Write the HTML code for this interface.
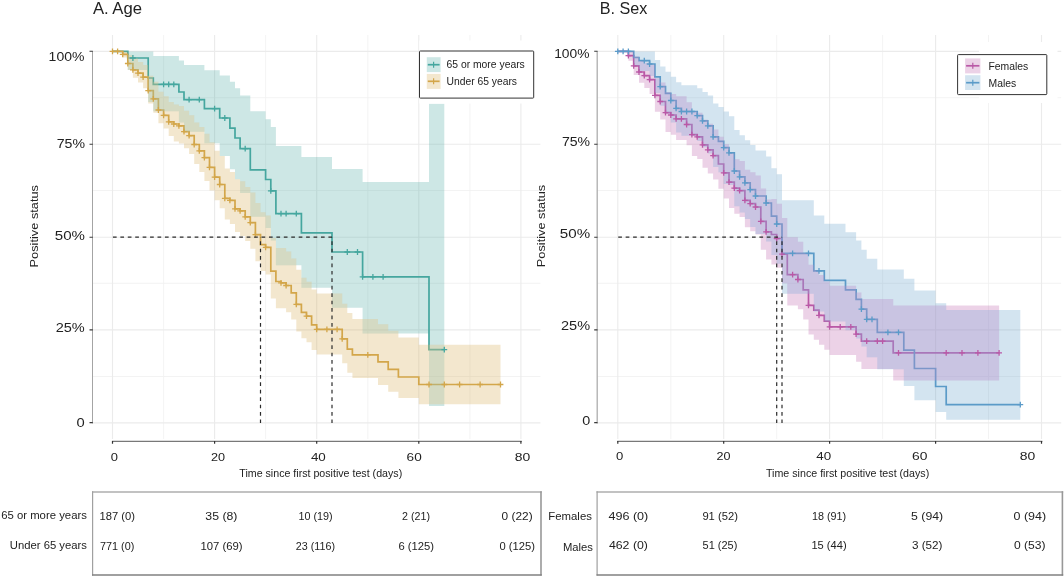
<!DOCTYPE html>
<html lang="en"><head><meta charset="utf-8"><title>Kaplan-Meier: time to negative test by age and sex</title>
<style>html,body{margin:0;padding:0;background:#fff}body{width:1064px;height:577px;overflow:hidden}svg{display:block}</style>
</head><body>
<svg width="1064" height="577" viewBox="0 0 1064 577" font-family="'Liberation Sans', sans-serif">
<defs><filter id="ga" x="0" y="0" width="1064" height="577" filterUnits="userSpaceOnUse" color-interpolation-filters="sRGB"><feOffset dx="0" dy="0"/></filter></defs>
<rect width="1064" height="577" fill="#fff"/>
<path d="M92.6,97.7H540.4M92.6,190.5H540.4M92.6,283.3H540.4M92.6,376.5H540.4M163.6,35.0V439.0M265.6,35.0V439.0M367.8,35.0V439.0M469.9,35.0V439.0" stroke="#f0f0f0" stroke-width="0.8" fill="none"/>
<path d="M92.6,51.4H540.4M92.6,144.2H540.4M92.6,237.2H540.4M92.6,329.9H540.4M92.6,422.9H540.4M112.5,35.0V439.0M214.6,35.0V439.0M316.7,35.0V439.0M418.8,35.0V439.0M520.9,35.0V439.0" stroke="#ebebeb" stroke-width="1.1" fill="none"/>
<path d="M112.5,51.4L127.8,51.4L127.8,58.0L148.2,58.0L148.2,78.0L153.3,78.0L153.3,84.4L178.9,84.4L178.9,92.0L184.0,92.0L184.0,99.6L204.4,99.6L204.4,108.7L219.7,108.7L219.7,118.0L229.9,118.0L229.9,128.2L235.0,128.2L235.0,138.0L240.1,138.0L240.1,148.6L250.3,148.6L250.3,169.8L265.6,169.8L265.6,179.5L270.8,179.5L270.8,190.8L275.9,190.8L275.9,213.7L301.4,213.7L301.4,232.8L332.0,232.8L332.0,252.0L362.6,252.0L362.6,276.8L429.0,276.8L429.0,349.7L444.3,349.7" stroke="#45a79f" stroke-width="1.7" fill="none"/>
<path d="M112.5,51.4L122.7,51.4L122.7,54.3L127.8,54.3L127.8,63.5L132.9,63.5L132.9,69.8L138.0,69.8L138.0,73.1L143.1,73.1L143.1,77.1L148.2,77.1L148.2,90.7L153.3,90.7L153.3,98.8L158.4,98.8L158.4,110.0L163.6,110.0L163.6,115.3L168.7,115.3L168.7,121.9L173.8,121.9L173.8,124.0L178.9,124.0L178.9,125.8L184.0,125.8L184.0,131.7L189.1,131.7L189.1,135.7L194.2,135.7L194.2,144.5L199.3,144.5L199.3,150.8L204.4,150.8L204.4,157.7L209.5,157.7L209.5,167.3L214.6,167.3L214.6,177.2L219.7,177.2L219.7,184.5L224.8,184.5L224.8,198.3L229.9,198.3L229.9,200.3L235.0,200.3L235.0,208.9L240.1,208.9L240.1,210.8L245.2,210.8L245.2,216.8L250.3,216.8L250.3,222.7L255.4,222.7L255.4,234.7L260.5,234.7L260.5,244.6L265.6,244.6L265.6,247.4L270.8,247.4L270.8,271.1L275.9,271.1L275.9,281.5L281.0,281.5L281.0,282.8L286.1,282.8L286.1,285.5L291.2,285.5L291.2,292.9L296.3,292.9L296.3,304.4L301.4,304.4L301.4,312.3L306.5,312.3L306.5,316.2L311.6,316.2L311.6,324.8L316.7,324.8L316.7,329.4L342.2,329.4L342.2,338.9L347.3,338.9L347.3,349.2L352.4,349.2L352.4,354.8L378.0,354.8L378.0,361.9L388.2,361.9L388.2,369.4L398.4,369.4L398.4,377.0L418.8,377.0L418.8,384.5L500.5,384.5" stroke="#d3a64a" stroke-width="1.7" fill="none"/>
<path d="M112.5,51.4H153.3V56.1H178.9V60.4H184.0V65.0H204.4V70.3H219.7V75.5H229.9V81.7H235.0V88.3H240.1V95.6H250.3V111.3H265.6V119.2H270.8V127.1H275.9V146.0H301.4V156.9H332.0V168.9H362.6V182.0H429.0V103.7H444.3V405.9H429.0V333.5H362.6V307.7H332.0V287.7H301.4V265.2H275.9V240.6H270.8V228.0H265.6V216.8H250.3V193.1H240.1V179.2H235.0V169.3H229.9V156.1H219.7V143.3H204.4V131.7H184.0V122.5H178.9V111.2H153.3V102.1H148.2V70.0H127.8V51.4H112.5Z" fill="#45a79f" fill-opacity="0.27"/>
<path d="M112.5,51.4H127.8V55.0H132.9V58.5H138.0V62.0H143.1V65.0H148.2V75.7H153.3V81.8H158.4V91.8H163.6V96.3H168.7V102.1H173.8V104.4H178.9V105.9H184.0V110.8H189.1V115.3H194.2V122.5H199.3V127.1H204.4V133.7H209.5V142.3H214.6V150.8H219.7V156.1H224.8V168.6H229.9V171.9H235.0V179.2H240.1V181.2H245.2V187.1H250.3V192.4H255.4V202.9H260.5V212.2H265.6V215.5H270.8V238.0H275.9V248.1H286.1V251.4H291.2V258.6H296.3V269.8H301.4V277.7H306.5V281.7H311.6V289.6H316.7V293.6H342.2V303.7H347.3V312.9H352.4V318.9H378.0V324.2H388.2V330.8H398.4V337.5H418.8V344.8H500.5V404.3H418.8V398.1H398.4V391.7H388.2V384.9H378.0V377.9H352.4V372.8H347.3V363.3H342.2V354.4H316.7V350.0H311.6V342.2H306.5V338.3H301.4V331.4H296.3V319.5H291.2V312.3H286.1V308.3H275.9V298.6H270.8V274.4H265.6V271.1H260.5V261.2H255.4V248.7H250.3V241.0H245.2V236.0H240.1V231.9H235.0V224.0H229.9V219.4H224.8V208.2H219.7V200.3H214.6V190.4H209.5V181.1H204.4V171.9H199.3V164.0H194.2V154.1H189.1V148.2H184.0V143.6H178.9V141.6H173.8V136.0H168.7V128.5H163.6V123.2H158.4V112.7H153.3V103.5H148.2V88.3H143.1V82.4H138.0V77.8H132.9V70.0H127.8V57.4H122.7V51.4H112.5Z" fill="#d3a64a" fill-opacity="0.27"/>
<clipPath id="cA"><path d="M112.5,51.4H153.3V56.1H178.9V60.4H184.0V65.0H204.4V70.3H219.7V75.5H229.9V81.7H235.0V88.3H240.1V95.6H250.3V111.3H265.6V119.2H270.8V127.1H275.9V146.0H301.4V156.9H332.0V168.9H362.6V182.0H429.0V103.7H444.3V405.9H429.0V333.5H362.6V307.7H332.0V287.7H301.4V265.2H275.9V240.6H270.8V228.0H265.6V216.8H250.3V193.1H240.1V179.2H235.0V169.3H229.9V156.1H219.7V143.3H204.4V131.7H184.0V122.5H178.9V111.2H153.3V102.1H148.2V70.0H127.8V51.4H112.5Z"/></clipPath>
<path d="M112.5,51.4H127.8V55.0H132.9V58.5H138.0V62.0H143.1V65.0H148.2V75.7H153.3V81.8H158.4V91.8H163.6V96.3H168.7V102.1H173.8V104.4H178.9V105.9H184.0V110.8H189.1V115.3H194.2V122.5H199.3V127.1H204.4V133.7H209.5V142.3H214.6V150.8H219.7V156.1H224.8V168.6H229.9V171.9H235.0V179.2H240.1V181.2H245.2V187.1H250.3V192.4H255.4V202.9H260.5V212.2H265.6V215.5H270.8V238.0H275.9V248.1H286.1V251.4H291.2V258.6H296.3V269.8H301.4V277.7H306.5V281.7H311.6V289.6H316.7V293.6H342.2V303.7H347.3V312.9H352.4V318.9H378.0V324.2H388.2V330.8H398.4V337.5H418.8V344.8H500.5V404.3H418.8V398.1H398.4V391.7H388.2V384.9H378.0V377.9H352.4V372.8H347.3V363.3H342.2V354.4H316.7V350.0H311.6V342.2H306.5V338.3H301.4V331.4H296.3V319.5H291.2V312.3H286.1V308.3H275.9V298.6H270.8V274.4H265.6V271.1H260.5V261.2H255.4V248.7H250.3V241.0H245.2V236.0H240.1V231.9H235.0V224.0H229.9V219.4H224.8V208.2H219.7V200.3H214.6V190.4H209.5V181.1H204.4V171.9H199.3V164.0H194.2V154.1H189.1V148.2H184.0V143.6H178.9V141.6H173.8V136.0H168.7V128.5H163.6V123.2H158.4V112.7H153.3V103.5H148.2V88.3H143.1V82.4H138.0V77.8H132.9V70.0H127.8V57.4H122.7V51.4H112.5Z" fill="#ffffff" fill-opacity="0.12" clip-path="url(#cA)"/>
<path d="M130.0,58.0h5.8M132.9,55.1v5.8M160.7,84.4h5.8M163.6,81.5v5.8M165.8,84.4h5.8M168.7,81.5v5.8M170.9,84.4h5.8M173.8,81.5v5.8M186.2,99.6h5.8M189.1,96.7v5.8M196.4,99.6h5.8M199.3,96.7v5.8M211.7,108.7h5.8M214.6,105.8v5.8M221.9,118.0h5.8M224.8,115.1v5.8M242.3,148.6h5.8M245.2,145.7v5.8M267.9,190.8h5.8M270.8,187.9v5.8M278.1,213.7h5.8M281.0,210.8v5.8M283.2,213.7h5.8M286.1,210.8v5.8M293.4,213.7h5.8M296.3,210.8v5.8M344.4,252.0h5.8M347.3,249.1v5.8M354.6,252.0h5.8M357.5,249.1v5.8M359.7,276.8h5.8M362.6,273.9v5.8M370.0,276.8h5.8M372.9,273.9v5.8M380.2,276.8h5.8M383.1,273.9v5.8M441.4,349.7h5.8M444.3,346.8v5.8" stroke="#45a79f" stroke-width="1.3" fill="none"/>
<path d="M109.6,51.4h5.8M112.5,48.5v5.8M114.7,51.4h5.8M117.6,48.5v5.8M119.8,54.3h5.8M122.7,51.4v5.8M124.9,63.5h5.8M127.8,60.6v5.8M130.0,69.8h5.8M132.9,66.9v5.8M135.1,73.1h5.8M138.0,70.2v5.8M140.2,77.1h5.8M143.1,74.2v5.8M145.3,90.7h5.8M148.2,87.8v5.8M150.4,98.8h5.8M153.3,95.9v5.8M155.5,110.0h5.8M158.4,107.1v5.8M160.7,115.3h5.8M163.6,112.4v5.8M165.8,121.9h5.8M168.7,119.0v5.8M170.9,124.0h5.8M173.8,121.1v5.8M176.0,125.8h5.8M178.9,122.9v5.8M181.1,131.7h5.8M184.0,128.8v5.8M186.2,135.7h5.8M189.1,132.8v5.8M191.3,144.5h5.8M194.2,141.6v5.8M196.4,150.8h5.8M199.3,147.9v5.8M201.5,157.7h5.8M204.4,154.8v5.8M206.6,167.3h5.8M209.5,164.4v5.8M211.7,177.2h5.8M214.6,174.3v5.8M216.8,184.5h5.8M219.7,181.6v5.8M221.9,198.3h5.8M224.8,195.4v5.8M227.0,200.3h5.8M229.9,197.4v5.8M232.1,208.9h5.8M235.0,206.0v5.8M237.2,210.8h5.8M240.1,207.9v5.8M242.3,216.8h5.8M245.2,213.9v5.8M247.4,222.7h5.8M250.3,219.8v5.8M252.5,234.7h5.8M255.4,231.8v5.8M262.8,247.4h5.8M265.6,244.5v5.8M278.1,282.8h5.8M281.0,279.9v5.8M283.2,285.5h5.8M286.1,282.6v5.8M293.4,304.4h5.8M296.3,301.5v5.8M303.6,316.2h5.8M306.5,313.3v5.8M313.8,329.4h5.8M316.7,326.5v5.8M324.0,329.4h5.8M326.9,326.5v5.8M334.2,329.4h5.8M337.1,326.5v5.8M339.3,338.9h5.8M342.2,336.0v5.8M364.9,354.8h5.8M367.8,351.9v5.8M426.1,384.5h5.8M429.0,381.6v5.8M441.4,384.5h5.8M444.3,381.6v5.8M456.7,384.5h5.8M459.6,381.6v5.8M477.2,384.5h5.8M480.1,381.6v5.8M497.6,384.5h5.8M500.5,381.6v5.8" stroke="#d3a64a" stroke-width="1.3" fill="none"/>
<path d="M112.5,237.1H332.0" stroke-dashoffset="7.0" stroke="#2b2b2b" stroke-width="1.2" stroke-dasharray="3.7 3.73" fill="none"/><path d="M260.5,237.2V422.9M332.0,237.2V422.9" stroke-dashoffset="3.43" stroke="#2b2b2b" stroke-width="1.2" stroke-dasharray="3.7 3.73" fill="none"/>
<path d="M597.2,97.7H1061.2M597.2,190.5H1061.2M597.2,283.3H1061.2M597.2,376.5H1061.2M670.8,35.0V439.0M776.7,35.0V439.0M882.6,35.0V439.0M988.5,35.0V439.0" stroke="#f0f0f0" stroke-width="0.8" fill="none"/>
<path d="M597.2,51.4H1061.2M597.2,144.2H1061.2M597.2,237.2H1061.2M597.2,329.9H1061.2M597.2,422.9H1061.2M617.8,35.0V439.0M723.7,35.0V439.0M829.6,35.0V439.0M935.6,35.0V439.0M1041.5,35.0V439.0" stroke="#ebebeb" stroke-width="1.1" fill="none"/>
<path d="M617.8,51.4L628.4,51.4L628.4,55.7L633.7,55.7L633.7,65.8L639.0,65.8L639.0,72.0L644.3,72.0L644.3,75.7L649.6,75.7L649.6,79.7L654.9,79.7L654.9,95.4L660.2,95.4L660.2,101.5L665.5,101.5L665.5,112.6L670.8,112.6L670.8,115.0L676.1,115.0L676.1,118.9L686.6,118.9L686.6,124.5L691.9,124.5L691.9,134.7L697.2,134.7L697.2,136.9L702.5,136.9L702.5,144.8L707.8,144.8L707.8,149.8L713.1,149.8L713.1,155.6L718.4,155.6L718.4,164.0L723.7,164.0L723.7,172.9L729.0,172.9L729.0,182.2L734.3,182.2L734.3,188.1L739.6,188.1L739.6,190.7L744.9,190.7L744.9,200.4L750.2,200.4L750.2,203.7L755.5,203.7L755.5,207.0L760.8,207.0L760.8,221.4L766.1,221.4L766.1,231.9L771.4,231.9L771.4,234.5L776.7,234.5L776.7,238.5L782.0,238.5L782.0,254.2L787.3,254.2L787.3,274.6L797.9,274.6L797.9,279.5L803.2,279.5L803.2,289.8L808.5,289.8L808.5,305.4L813.8,305.4L813.8,310.2L819.0,310.2L819.0,315.4L824.3,315.4L824.3,321.2L829.6,321.2L829.6,326.9L856.1,326.9L856.1,334.1L861.4,334.1L861.4,341.1L893.2,341.1L893.2,352.8L999.1,352.8" stroke="#ba58a6" stroke-width="1.7" fill="none"/>
<path d="M617.8,51.4L633.7,51.4L633.7,57.5L639.0,57.5L639.0,60.7L649.6,60.7L649.6,64.0L654.9,64.0L654.9,76.8L660.2,76.8L660.2,86.7L665.5,86.7L665.5,93.3L670.8,93.3L670.8,100.5L676.1,100.5L676.1,108.3L681.4,108.3L681.4,111.5L697.2,111.5L697.2,115.7L702.5,115.7L702.5,120.8L707.8,120.8L707.8,125.8L713.1,125.8L713.1,136.9L718.4,136.9L718.4,141.3L723.7,141.3L723.7,147.7L729.0,147.7L729.0,152.8L734.3,152.8L734.3,171.0L739.6,171.0L739.6,176.9L744.9,176.9L744.9,182.8L750.2,182.8L750.2,189.7L755.5,189.7L755.5,196.0L766.1,196.0L766.1,203.0L771.4,203.0L771.4,216.1L776.7,216.1L776.7,224.0L782.0,224.0L782.0,253.3L813.8,253.3L813.8,270.8L824.3,270.8L824.3,280.3L845.5,280.3L845.5,289.8L856.1,289.8L856.1,299.3L861.4,299.3L861.4,309.2L866.7,309.2L866.7,319.4L877.3,319.4L877.3,332.3L903.8,332.3L903.8,350.2L914.4,350.2L914.4,368.5L935.6,368.5L935.6,386.5L946.2,386.5L946.2,404.6L1020.3,404.6" stroke="#5b9bc9" stroke-width="1.7" fill="none"/>
<path d="M617.8,51.4H628.4V51.4H633.7V56.5H639.0V60.9H644.3V62.8H649.6V64.8H654.9V78.2H660.2V82.4H665.5V91.9H670.8V94.0H676.1V96.2H686.6V102.3H691.9V111.6H697.2V112.8H702.5V119.8H707.8V123.7H713.1V129.4H718.4V136.7H723.7V144.3H729.0V153.4H734.3V159.2H739.6V161.0H744.9V169.8H750.2V172.3H755.5V175.5H760.8V188.5H766.1V199.5H771.4V199.0H776.7V203.8H782.0V218.0H787.3V237.2H797.9V241.8H803.2V253.0H808.5V264.8H813.8V270.1H819.0V274.9H824.3V281.6H829.6V285.8H856.1V292.4H861.4V299.0H893.2V305.5H999.1V380.6H893.2V368.9H861.4V361.8H856.1V355.1H829.6V349.7H824.3V344.8H819.0V339.8H813.8V334.5H808.5V319.4H803.2V309.3H797.9V305.6H787.3V283.2H782.0V267.7H776.7V264.4H771.4V259.6H766.1V249.7H760.8V234.5H755.5V231.2H750.2V227.3H744.9V217.0H739.6V213.8H734.3V207.9H729.0V198.6H723.7V188.7H718.4V179.5H713.1V173.6H707.8V167.7H702.5V159.1H697.2V156.1H691.9V145.2H686.6V140.0H676.1V134.7H670.8V132.0H665.5V119.5H660.2V111.7H654.9V94.0H649.6V88.1H644.3V82.8H639.0V74.9H633.7V60.8H628.4V51.4H617.8Z" fill="#ba58a6" fill-opacity="0.27"/>
<path d="M617.8,51.4H654.9V59.9H660.2V66.4H665.5V71.7H670.8V76.8H676.1V82.2H681.4V85.3H697.2V88.2H702.5V91.9H707.8V95.4H713.1V103.4H718.4V107.0H723.7V111.6H729.0V116.2H734.3V130.1H739.6V135.3H744.9V140.3H750.2V145.1H755.5V150.4H766.1V156.5H771.4V168.3H776.7V174.3H782.0V200.3H813.8V215.5H824.3V223.7H845.5V232.3H856.1V240.5H861.4V249.7H866.7V258.8H877.3V269.4H903.8V278.7H914.4V290.4H935.6V303.3H946.2V310.0H1020.3V419.8H946.2V411.9H935.6V400.2H914.4V386.0H903.8V369.3H877.3V357.2H866.7V346.6H861.4V338.5H856.1V330.3H845.5V321.4H824.3V311.5H813.8V293.7H782.0V263.8H776.7V254.9H771.4V241.4H766.1V234.0H755.5V227.1H750.2V218.9H744.9V212.5H739.6V206.2H734.3V185.0H729.0V184.1H723.7V172.3H718.4V166.9H713.1V153.4H707.8V147.2H702.5V140.9H697.2V135.7H681.4V132.4H676.1V122.6H670.8V113.6H665.5V105.8H660.2V92.9H654.9V75.9H649.6V71.0H639.0V65.8H633.7V51.4H617.8Z" fill="#5b9bc9" fill-opacity="0.27"/>
<clipPath id="cB"><path d="M617.8,51.4H654.9V59.9H660.2V66.4H665.5V71.7H670.8V76.8H676.1V82.2H681.4V85.3H697.2V88.2H702.5V91.9H707.8V95.4H713.1V103.4H718.4V107.0H723.7V111.6H729.0V116.2H734.3V130.1H739.6V135.3H744.9V140.3H750.2V145.1H755.5V150.4H766.1V156.5H771.4V168.3H776.7V174.3H782.0V200.3H813.8V215.5H824.3V223.7H845.5V232.3H856.1V240.5H861.4V249.7H866.7V258.8H877.3V269.4H903.8V278.7H914.4V290.4H935.6V303.3H946.2V310.0H1020.3V419.8H946.2V411.9H935.6V400.2H914.4V386.0H903.8V369.3H877.3V357.2H866.7V346.6H861.4V338.5H856.1V330.3H845.5V321.4H824.3V311.5H813.8V293.7H782.0V263.8H776.7V254.9H771.4V241.4H766.1V234.0H755.5V227.1H750.2V218.9H744.9V212.5H739.6V206.2H734.3V185.0H729.0V184.1H723.7V172.3H718.4V166.9H713.1V153.4H707.8V147.2H702.5V140.9H697.2V135.7H681.4V132.4H676.1V122.6H670.8V113.6H665.5V105.8H660.2V92.9H654.9V75.9H649.6V71.0H639.0V65.8H633.7V51.4H617.8Z"/></clipPath>
<path d="M617.8,51.4H628.4V51.4H633.7V56.5H639.0V60.9H644.3V62.8H649.6V64.8H654.9V78.2H660.2V82.4H665.5V91.9H670.8V94.0H676.1V96.2H686.6V102.3H691.9V111.6H697.2V112.8H702.5V119.8H707.8V123.7H713.1V129.4H718.4V136.7H723.7V144.3H729.0V153.4H734.3V159.2H739.6V161.0H744.9V169.8H750.2V172.3H755.5V175.5H760.8V188.5H766.1V199.5H771.4V199.0H776.7V203.8H782.0V218.0H787.3V237.2H797.9V241.8H803.2V253.0H808.5V264.8H813.8V270.1H819.0V274.9H824.3V281.6H829.6V285.8H856.1V292.4H861.4V299.0H893.2V305.5H999.1V380.6H893.2V368.9H861.4V361.8H856.1V355.1H829.6V349.7H824.3V344.8H819.0V339.8H813.8V334.5H808.5V319.4H803.2V309.3H797.9V305.6H787.3V283.2H782.0V267.7H776.7V264.4H771.4V259.6H766.1V249.7H760.8V234.5H755.5V231.2H750.2V227.3H744.9V217.0H739.6V213.8H734.3V207.9H729.0V198.6H723.7V188.7H718.4V179.5H713.1V173.6H707.8V167.7H702.5V159.1H697.2V156.1H691.9V145.2H686.6V140.0H676.1V134.7H670.8V132.0H665.5V119.5H660.2V111.7H654.9V94.0H649.6V88.1H644.3V82.8H639.0V74.9H633.7V60.8H628.4V51.4H617.8Z" fill="#e6d2ff" fill-opacity="0.13" clip-path="url(#cB)"/>
<path d="M625.5,55.7h5.8M628.4,52.8v5.8M630.8,65.8h5.8M633.7,62.9v5.8M636.1,72.0h5.8M639.0,69.1v5.8M641.4,75.7h5.8M644.3,72.8v5.8M646.7,79.7h5.8M649.6,76.8v5.8M652.0,95.4h5.8M654.9,92.5v5.8M657.3,101.5h5.8M660.2,98.6v5.8M662.6,112.6h5.8M665.5,109.7v5.8M667.9,115.0h5.8M670.8,112.1v5.8M673.2,118.9h5.8M676.1,116.0v5.8M678.5,118.9h5.8M681.4,116.0v5.8M683.7,124.5h5.8M686.6,121.6v5.8M689.0,134.7h5.8M691.9,131.8v5.8M694.3,136.9h5.8M697.2,134.0v5.8M699.6,144.8h5.8M702.5,141.9v5.8M704.9,149.8h5.8M707.8,146.9v5.8M710.2,155.6h5.8M713.1,152.7v5.8M720.8,172.9h5.8M723.7,170.0v5.8M726.1,182.2h5.8M729.0,179.3v5.8M731.4,188.1h5.8M734.3,185.2v5.8M736.7,190.7h5.8M739.6,187.8v5.8M742.0,200.4h5.8M744.9,197.5v5.8M747.3,203.7h5.8M750.2,200.8v5.8M752.6,207.0h5.8M755.5,204.1v5.8M757.9,221.4h5.8M760.8,218.5v5.8M763.2,231.9h5.8M766.1,229.0v5.8M773.8,238.5h5.8M776.7,235.6v5.8M779.1,254.2h5.8M782.0,251.3v5.8M789.7,274.6h5.8M792.6,271.7v5.8M795.0,279.5h5.8M797.9,276.6v5.8M805.6,305.4h5.8M808.5,302.5v5.8M816.1,315.4h5.8M819.0,312.5v5.8M826.7,326.9h5.8M829.6,324.0v5.8M837.3,326.9h5.8M840.2,324.0v5.8M847.9,326.9h5.8M850.8,324.0v5.8M853.2,334.1h5.8M856.1,331.2v5.8M863.8,341.1h5.8M866.7,338.2v5.8M874.4,341.1h5.8M877.3,338.2v5.8M879.7,341.1h5.8M882.6,338.2v5.8M895.6,352.8h5.8M898.5,349.9v5.8M943.3,352.8h5.8M946.2,349.9v5.8M959.1,352.8h5.8M962.0,349.9v5.8M975.0,352.8h5.8M977.9,349.9v5.8M996.2,352.8h5.8M999.1,349.9v5.8" stroke="#ba58a6" stroke-width="1.3" fill="none"/>
<path d="M614.9,51.4h5.8M617.8,48.5v5.8M620.2,51.4h5.8M623.1,48.5v5.8M625.5,51.4h5.8M628.4,48.5v5.8M641.4,60.7h5.8M644.3,57.8v5.8M646.7,64.0h5.8M649.6,61.1v5.8M657.3,86.7h5.8M660.2,83.8v5.8M667.9,100.5h5.8M670.8,97.6v5.8M673.2,108.3h5.8M676.1,105.4v5.8M678.5,111.5h5.8M681.4,108.6v5.8M683.7,111.5h5.8M686.6,108.6v5.8M689.0,111.5h5.8M691.9,108.6v5.8M694.3,115.7h5.8M697.2,112.8v5.8M699.6,120.8h5.8M702.5,117.9v5.8M704.9,125.8h5.8M707.8,122.9v5.8M710.2,136.9h5.8M713.1,134.0v5.8M720.8,147.7h5.8M723.7,144.8v5.8M726.1,152.8h5.8M729.0,149.9v5.8M731.4,171.0h5.8M734.3,168.1v5.8M736.7,176.9h5.8M739.6,174.0v5.8M742.0,182.8h5.8M744.9,179.9v5.8M747.3,189.7h5.8M750.2,186.8v5.8M752.6,196.0h5.8M755.5,193.1v5.8M763.2,203.0h5.8M766.1,200.1v5.8M773.8,224.0h5.8M776.7,221.1v5.8M789.7,253.3h5.8M792.6,250.4v5.8M805.6,253.3h5.8M808.5,250.4v5.8M816.1,270.8h5.8M819.0,267.9v5.8M858.5,309.2h5.8M861.4,306.3v5.8M863.8,319.4h5.8M866.7,316.5v5.8M869.1,319.4h5.8M872.0,316.5v5.8M885.0,332.3h5.8M887.9,329.4v5.8M895.6,332.3h5.8M898.5,329.4v5.8M1017.4,404.6h5.8M1020.3,401.7v5.8" stroke="#5b9bc9" stroke-width="1.3" fill="none"/>
<path d="M617.8,237.1H782.0" stroke-dashoffset="7.0" stroke="#2b2b2b" stroke-width="1.2" stroke-dasharray="3.7 3.73" fill="none"/><path d="M776.7,237.2V422.9M782.0,237.2V422.9" stroke-dashoffset="3.43" stroke="#2b2b2b" stroke-width="1.2" stroke-dasharray="3.7 3.73" fill="none"/>
<path d="M92.5,51.0V423.4" stroke="#a4a4a4" stroke-width="1.0" fill="none"/>
<path d="M89.5,51.2H92.8M89.5,144.2H92.8M89.5,237.2H92.8M89.5,329.9H92.8M89.5,422.6H92.8" stroke="#3a3a3a" stroke-width="1.1" fill="none"/>
<path d="M112.0,441.4H521.8" stroke="#787878" stroke-width="1.2" fill="none"/>
<path d="M112.5,441.0V443.8M214.6,441.0V443.8M316.7,441.0V443.8M418.8,441.0V443.8M520.9,441.0V443.8" stroke="#333" stroke-width="1.2" fill="none"/>
<path d="M597.2,51.0V423.4" stroke="#adadad" stroke-width="1.3" fill="none"/>
<path d="M594.2,51.2H597.5M594.2,144.2H597.5M594.2,237.2H597.5M594.2,329.9H597.5M594.2,422.6H597.5" stroke="#3a3a3a" stroke-width="1.1" fill="none"/>
<path d="M617.3,441.4H1042.4" stroke="#787878" stroke-width="1.2" fill="none"/>
<path d="M617.8,441.0V443.8M723.7,441.0V443.8M829.6,441.0V443.8M935.6,441.0V443.8M1041.5,441.0V443.8" stroke="#333" stroke-width="1.2" fill="none"/>
<rect x="419.3" y="40.5" width="123" height="63" fill="#fff"/>
<rect x="979" y="42" width="78.5" height="61" fill="#fff"/>
<rect x="419.5" y="51" width="114.2" height="47.1" fill="#fff" stroke="#333" stroke-width="1" rx="0.8"/>
<rect x="957.6" y="54.6" width="89.2" height="40" fill="#fff" stroke="#333" stroke-width="1" rx="0.8"/>
<rect x="426.8" y="57.2" width="13.8" height="14.9" fill="#45a79f" fill-opacity="0.27"/><path d="M427.8,64.7h11.8" stroke="#45a79f" stroke-width="1.7"/><path d="M433.6,61.7v6" stroke="#45a79f" stroke-width="1.2"/>
<rect x="426.8" y="73.9" width="13.8" height="15.0" fill="#d3a64a" fill-opacity="0.27"/><path d="M427.8,81.3h11.8" stroke="#d3a64a" stroke-width="1.7"/><path d="M433.6,78.3v6" stroke="#d3a64a" stroke-width="1.2"/>
<rect x="965.1" y="58.4" width="15.3" height="15.0" fill="#ba58a6" fill-opacity="0.27"/><path d="M966.1,65.8h13.3" stroke="#ba58a6" stroke-width="1.7"/><path d="M972.8,62.8v6" stroke="#ba58a6" stroke-width="1.2"/>
<rect x="965.1" y="75.2" width="15.3" height="14.8" fill="#5b9bc9" fill-opacity="0.27"/><path d="M966.1,82.7h13.3" stroke="#5b9bc9" stroke-width="1.7"/><path d="M972.8,79.7v6" stroke="#5b9bc9" stroke-width="1.2"/>
<path d="M92.0,492.0H541.8" stroke="#c2c2c2" stroke-width="1.8" fill="none"/>
<path d="M92.6,491.2V575.6" stroke="#a0a0a0" stroke-width="1.2" fill="none"/>
<path d="M541.0,491.2V575.6" stroke="#989898" stroke-width="1.6" fill="none"/>
<path d="M92.0,575.0H541.8" stroke="#808080" stroke-width="1.4" fill="none"/>
<path d="M596.5,492.0H1063.2" stroke="#c2c2c2" stroke-width="1.8" fill="none"/>
<path d="M597.1,491.2V575.6" stroke="#a0a0a0" stroke-width="1.2" fill="none"/>
<path d="M1062.4,491.2V575.6" stroke="#989898" stroke-width="1.6" fill="none"/>
<path d="M596.5,575.0H1063.2" stroke="#808080" stroke-width="1.4" fill="none"/>
<g filter="url(#ga)">
<text x="48.6" y="60.7" font-size="13.4" text-anchor="start" fill="#222" textLength="35.8" lengthAdjust="spacingAndGlyphs">100%</text>
<text x="56.7" y="148.1" font-size="13.4" text-anchor="start" fill="#222" textLength="28.3" lengthAdjust="spacingAndGlyphs">75%</text>
<text x="54.8" y="239.9" font-size="13.4" text-anchor="start" fill="#222" textLength="30.2" lengthAdjust="spacingAndGlyphs">50%</text>
<text x="55.7" y="331.9" font-size="13.4" text-anchor="start" fill="#222" textLength="29.1" lengthAdjust="spacingAndGlyphs">25%</text>
<text x="76.6" y="426.8" font-size="13.4" text-anchor="start" fill="#222" textLength="8.2" lengthAdjust="spacingAndGlyphs">0</text>
<text x="554.2" y="58.3" font-size="13.4" text-anchor="start" fill="#222" textLength="35.3" lengthAdjust="spacingAndGlyphs">100%</text>
<text x="561.9" y="145.8" font-size="13.4" text-anchor="start" fill="#222" textLength="28.2" lengthAdjust="spacingAndGlyphs">75%</text>
<text x="559.8" y="237.8" font-size="13.4" text-anchor="start" fill="#222" textLength="30.3" lengthAdjust="spacingAndGlyphs">50%</text>
<text x="561.0" y="329.8" font-size="13.4" text-anchor="start" fill="#222" textLength="29.1" lengthAdjust="spacingAndGlyphs">25%</text>
<text x="582.2" y="424.6" font-size="13.4" text-anchor="start" fill="#222" textLength="8.0" lengthAdjust="spacingAndGlyphs">0</text>
<text x="110.7" y="461.3" font-size="11.2" text-anchor="start" fill="#222" textLength="7.2" lengthAdjust="spacingAndGlyphs">0</text>
<text x="211.0" y="461.3" font-size="11.2" text-anchor="start" fill="#222" textLength="14.1" lengthAdjust="spacingAndGlyphs">20</text>
<text x="310.9" y="461.3" font-size="11.2" text-anchor="start" fill="#222" textLength="14.9" lengthAdjust="spacingAndGlyphs">40</text>
<text x="406.6" y="461.3" font-size="11.2" text-anchor="start" fill="#222" textLength="15.1" lengthAdjust="spacingAndGlyphs">60</text>
<text x="514.7" y="461.3" font-size="11.2" text-anchor="start" fill="#222" textLength="15.5" lengthAdjust="spacingAndGlyphs">80</text>
<text x="615.9" y="459.5" font-size="11.2" text-anchor="start" fill="#222" textLength="7.3" lengthAdjust="spacingAndGlyphs">0</text>
<text x="716.5" y="459.5" font-size="11.2" text-anchor="start" fill="#222" textLength="14.0" lengthAdjust="spacingAndGlyphs">20</text>
<text x="816.3" y="459.5" font-size="11.2" text-anchor="start" fill="#222" textLength="14.9" lengthAdjust="spacingAndGlyphs">40</text>
<text x="912.1" y="459.5" font-size="11.2" text-anchor="start" fill="#222" textLength="15.4" lengthAdjust="spacingAndGlyphs">60</text>
<text x="1019.8" y="459.5" font-size="11.2" text-anchor="start" fill="#222" textLength="15.5" lengthAdjust="spacingAndGlyphs">80</text>
<text x="239.3" y="476.9" font-size="10.2" text-anchor="start" fill="#222" textLength="162.9" lengthAdjust="spacingAndGlyphs">Time since first positive test (days)</text>
<text x="766.0" y="476.9" font-size="10.2" text-anchor="start" fill="#222" textLength="163.2" lengthAdjust="spacingAndGlyphs">Time since first positive test (days)</text>
<text transform="translate(38.2,267.4) rotate(-90)" font-size="11.6" fill="#222" textLength="82.4" lengthAdjust="spacingAndGlyphs">Positive status</text>
<text transform="translate(545.4,267.2) rotate(-90)" font-size="11.6" fill="#222" textLength="82.4" lengthAdjust="spacingAndGlyphs">Positive status</text>
<text x="92.9" y="13.7" font-size="15.9" text-anchor="start" fill="#222" textLength="49.1" lengthAdjust="spacingAndGlyphs">A. Age</text>
<text x="599.7" y="13.7" font-size="15.9" text-anchor="start" fill="#222" textLength="47.6" lengthAdjust="spacingAndGlyphs">B. Sex</text>
<text x="446.5" y="67.8" font-size="11.0" text-anchor="start" fill="#222" textLength="78.3" lengthAdjust="spacingAndGlyphs">65 or more years</text>
<text x="446.5" y="84.8" font-size="11.0" text-anchor="start" fill="#222" textLength="70.5" lengthAdjust="spacingAndGlyphs">Under 65 years</text>
<text x="988.5" y="69.7" font-size="10.1" text-anchor="start" fill="#222" textLength="39.8" lengthAdjust="spacingAndGlyphs">Females</text>
<text x="988.5" y="86.9" font-size="10.1" text-anchor="start" fill="#222" textLength="27.7" lengthAdjust="spacingAndGlyphs">Males</text>
<text x="1.2" y="518.8" font-size="11.6" text-anchor="start" fill="#222" textLength="85.7" lengthAdjust="spacingAndGlyphs">65 or more years</text>
<text x="9.8" y="548.6" font-size="11.6" text-anchor="start" fill="#222" textLength="77.1" lengthAdjust="spacingAndGlyphs">Under 65 years</text>
<text x="548.3" y="519.5" font-size="11.0" text-anchor="start" fill="#222" textLength="43.6" lengthAdjust="spacingAndGlyphs">Females</text>
<text x="562.9" y="550.8" font-size="11.0" text-anchor="start" fill="#222" textLength="30.0" lengthAdjust="spacingAndGlyphs">Males</text>
<text x="99.5" y="519.5" font-size="10.9" text-anchor="start" fill="#222" textLength="35.5" lengthAdjust="spacingAndGlyphs">187 (0)</text>
<text x="205.3" y="519.5" font-size="10.9" text-anchor="start" fill="#222" textLength="32.1" lengthAdjust="spacingAndGlyphs">35 (8)</text>
<text x="298.4" y="519.5" font-size="10.9" text-anchor="start" fill="#222" textLength="34.2" lengthAdjust="spacingAndGlyphs">10 (19)</text>
<text x="402.1" y="519.5" font-size="10.9" text-anchor="start" fill="#222" textLength="27.9" lengthAdjust="spacingAndGlyphs">2 (21)</text>
<text x="501.6" y="519.5" font-size="10.9" text-anchor="start" fill="#222" textLength="31.0" lengthAdjust="spacingAndGlyphs">0 (22)</text>
<text x="100.0" y="549.5" font-size="10.9" text-anchor="start" fill="#222" textLength="34.3" lengthAdjust="spacingAndGlyphs">771 (0)</text>
<text x="200.5" y="549.5" font-size="10.9" text-anchor="start" fill="#222" textLength="42.1" lengthAdjust="spacingAndGlyphs">107 (69)</text>
<text x="295.8" y="549.5" font-size="10.9" text-anchor="start" fill="#222" textLength="39.2" lengthAdjust="spacingAndGlyphs">23 (116)</text>
<text x="398.4" y="549.5" font-size="10.9" text-anchor="start" fill="#222" textLength="35.6" lengthAdjust="spacingAndGlyphs">6 (125)</text>
<text x="499.5" y="549.5" font-size="10.9" text-anchor="start" fill="#222" textLength="35.5" lengthAdjust="spacingAndGlyphs">0 (125)</text>
<text x="608.4" y="519.5" font-size="10.9" text-anchor="start" fill="#222" textLength="39.9" lengthAdjust="spacingAndGlyphs">496 (0)</text>
<text x="702.4" y="519.5" font-size="10.9" text-anchor="start" fill="#222" textLength="35.5" lengthAdjust="spacingAndGlyphs">91 (52)</text>
<text x="811.9" y="519.5" font-size="10.9" text-anchor="start" fill="#222" textLength="34.2" lengthAdjust="spacingAndGlyphs">18 (91)</text>
<text x="911.1" y="519.5" font-size="10.9" text-anchor="start" fill="#222" textLength="32.1" lengthAdjust="spacingAndGlyphs">5 (94)</text>
<text x="1013.5" y="519.5" font-size="10.9" text-anchor="start" fill="#222" textLength="32.6" lengthAdjust="spacingAndGlyphs">0 (94)</text>
<text x="608.9" y="549.4" font-size="10.9" text-anchor="start" fill="#222" textLength="39.1" lengthAdjust="spacingAndGlyphs">462 (0)</text>
<text x="702.6" y="549.4" font-size="10.9" text-anchor="start" fill="#222" textLength="34.8" lengthAdjust="spacingAndGlyphs">51 (25)</text>
<text x="811.4" y="549.4" font-size="10.9" text-anchor="start" fill="#222" textLength="35.2" lengthAdjust="spacingAndGlyphs">15 (44)</text>
<text x="911.9" y="549.4" font-size="10.9" text-anchor="start" fill="#222" textLength="30.5" lengthAdjust="spacingAndGlyphs">3 (52)</text>
<text x="1014.0" y="549.4" font-size="10.9" text-anchor="start" fill="#222" textLength="31.6" lengthAdjust="spacingAndGlyphs">0 (53)</text>
</g>
</svg>
</body></html>
